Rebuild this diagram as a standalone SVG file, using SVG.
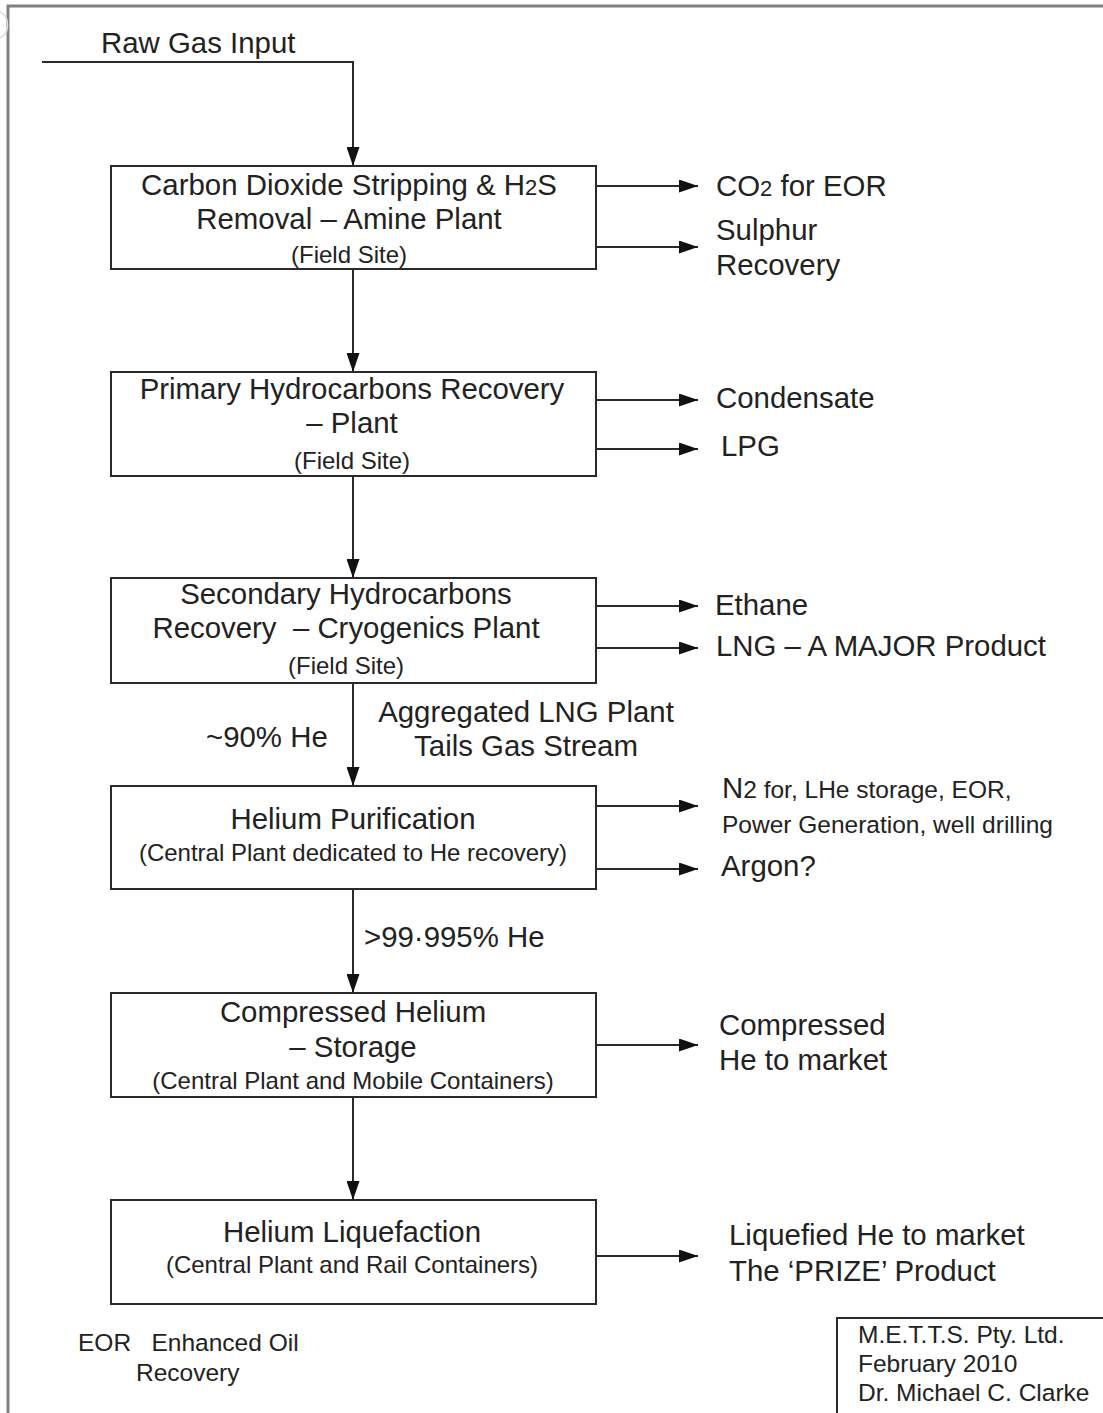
<svg xmlns="http://www.w3.org/2000/svg" width="1103" height="1413" viewBox="0 0 1103 1413">
<style>
text{font-family:"Liberation Sans",Arial,sans-serif;fill:#222}
.b{font-size:29.4px}
.s{font-size:24px}
.m{font-size:24.5px}
.box{fill:#fff;stroke:#2a2a2a;stroke-width:2}
.ln{fill:none;stroke:#2a2a2a;stroke-width:2}
.c{text-anchor:middle}
</style>
<defs>
<marker id="ah" viewBox="0 0 19 13" refX="19" refY="6.5" markerWidth="19" markerHeight="13" markerUnits="userSpaceOnUse" orient="auto">
<path d="M0,0 L19,6.5 L0,13 Z" fill="#111"/>
</marker>
</defs>
<rect width="1103" height="1413" fill="#fff"/>
<g id="frame">
<path d="M8,1413 V6 H1103" fill="none" stroke="#808080" stroke-width="3"/>
<path d="M0,12 A12,14 0 0 1 0,38" fill="none" stroke="#ddd" stroke-width="1.5"/>
</g>
<g id="connectors">
<path class="ln" d="M42,62 H353 V166" marker-end="url(#ah)"/>
<path class="ln" d="M353,269 V372" marker-end="url(#ah)"/>
<path class="ln" d="M353,476 V578" marker-end="url(#ah)"/>
<path class="ln" d="M353,683 V786" marker-end="url(#ah)"/>
<path class="ln" d="M353,889 V993" marker-end="url(#ah)"/>
<path class="ln" d="M353,1097 V1200" marker-end="url(#ah)"/>
<path class="ln" d="M596,186 H698" marker-end="url(#ah)"/>
<path class="ln" d="M596,247 H698" marker-end="url(#ah)"/>
<path class="ln" d="M596,400 H698" marker-end="url(#ah)"/>
<path class="ln" d="M596,449 H698" marker-end="url(#ah)"/>
<path class="ln" d="M596,606 H698" marker-end="url(#ah)"/>
<path class="ln" d="M596,648 H698" marker-end="url(#ah)"/>
<path class="ln" d="M596,806 H698" marker-end="url(#ah)"/>
<path class="ln" d="M596,869 H698" marker-end="url(#ah)"/>
<path class="ln" d="M596,1045 H698" marker-end="url(#ah)"/>
<path class="ln" d="M596,1256 H698" marker-end="url(#ah)"/>
</g>
<g id="input"><text class="b" x="101" y="53">Raw Gas Input</text></g>
<g id="box1">
<rect class="box" x="111" y="166" width="485" height="103"/>
<text class="b c" x="349" y="195">Carbon Dioxide Stripping &amp; H<tspan font-size="22">2</tspan>S</text>
<text class="b c" x="349" y="229">Removal – Amine Plant</text>
<text class="s c" x="349" y="263">(Field Site)</text>
</g>
<g id="out-co2"><text class="b" x="716" y="196">CO<tspan font-size="22">2</tspan> for EOR</text></g>
<g id="out-sulphur"><text class="b" x="716" y="240">Sulphur</text><text class="b" x="716" y="275">Recovery</text></g>
<g id="box2">
<rect class="box" x="111" y="372" width="485" height="104"/>
<text class="b c" x="352" y="399">Primary Hydrocarbons Recovery</text>
<text class="b c" x="352" y="433">– Plant</text>
<text class="s c" x="352" y="469">(Field Site)</text>
</g>
<g id="out-condensate"><text class="b" x="716" y="408">Condensate</text></g>
<g id="out-lpg"><text class="b" x="721" y="456">LPG</text></g>
<g id="box3">
<rect class="box" x="111" y="578" width="485" height="105"/>
<text class="b c" x="346" y="604">Secondary Hydrocarbons</text>
<text class="b c" x="346" y="638" xml:space="preserve">Recovery  – Cryogenics Plant</text>
<text class="s c" x="346" y="674">(Field Site)</text>
</g>
<g id="out-ethane"><text class="b" x="715" y="615">Ethane</text></g>
<g id="out-lng"><text class="b" x="716" y="656">LNG – A MAJOR Product</text></g>
<g id="label-he90"><text class="b" x="206" y="747">~90% He</text></g>
<g id="label-tails"><text class="b c" x="526" y="722">Aggregated LNG Plant</text><text class="b c" x="526" y="756">Tails Gas Stream</text></g>
<g id="box4">
<rect class="box" x="111" y="786" width="485" height="103"/>
<text class="b c" x="353" y="829">Helium Purification</text>
<text class="s c" x="353" y="861">(Central Plant dedicated to He recovery)</text>
</g>
<g id="out-n2"><text class="m" x="722" y="798"><tspan font-size="29.4">N</tspan>2 for, LHe storage, EOR,</text><text class="m" x="722" y="833">Power Generation, well drilling</text></g>
<g id="out-argon"><text class="b" x="721" y="876">Argon?</text></g>
<g id="label-he99"><text class="b" x="364" y="947">&gt;99·995% He</text></g>
<g id="box5">
<rect class="box" x="111" y="993" width="485" height="104"/>
<text class="b c" x="353" y="1022">Compressed Helium</text>
<text class="b c" x="353" y="1057">– Storage</text>
<text class="s c" x="353" y="1089">(Central Plant and Mobile Containers)</text>
</g>
<g id="out-compressed"><text class="b" x="719" y="1035">Compressed</text><text class="b" x="719" y="1070">He to market</text></g>
<g id="box6">
<rect class="box" x="111" y="1200" width="485" height="104"/>
<text class="b c" x="352" y="1242">Helium Liquefaction</text>
<text class="s c" x="352" y="1273">(Central Plant and Rail Containers)</text>
</g>
<g id="out-liquefied"><text class="b" x="729" y="1245">Liquefied He to market</text><text class="b" x="729" y="1281">The ‘PRIZE’ Product</text></g>
<g id="legend"><text class="m" x="78" y="1351" xml:space="preserve">EOR   Enhanced Oil</text><text class="m" x="136" y="1381">Recovery</text></g>
<g id="credit">
<path class="ln" d="M837,1413 V1318 H1103"/>
<text class="m" x="858" y="1343">M.E.T.T.S. Pty. Ltd.</text>
<text class="m" x="858" y="1372">February 2010</text>
<text class="m" x="858" y="1401">Dr. Michael C. Clarke</text>
</g>
</svg>
